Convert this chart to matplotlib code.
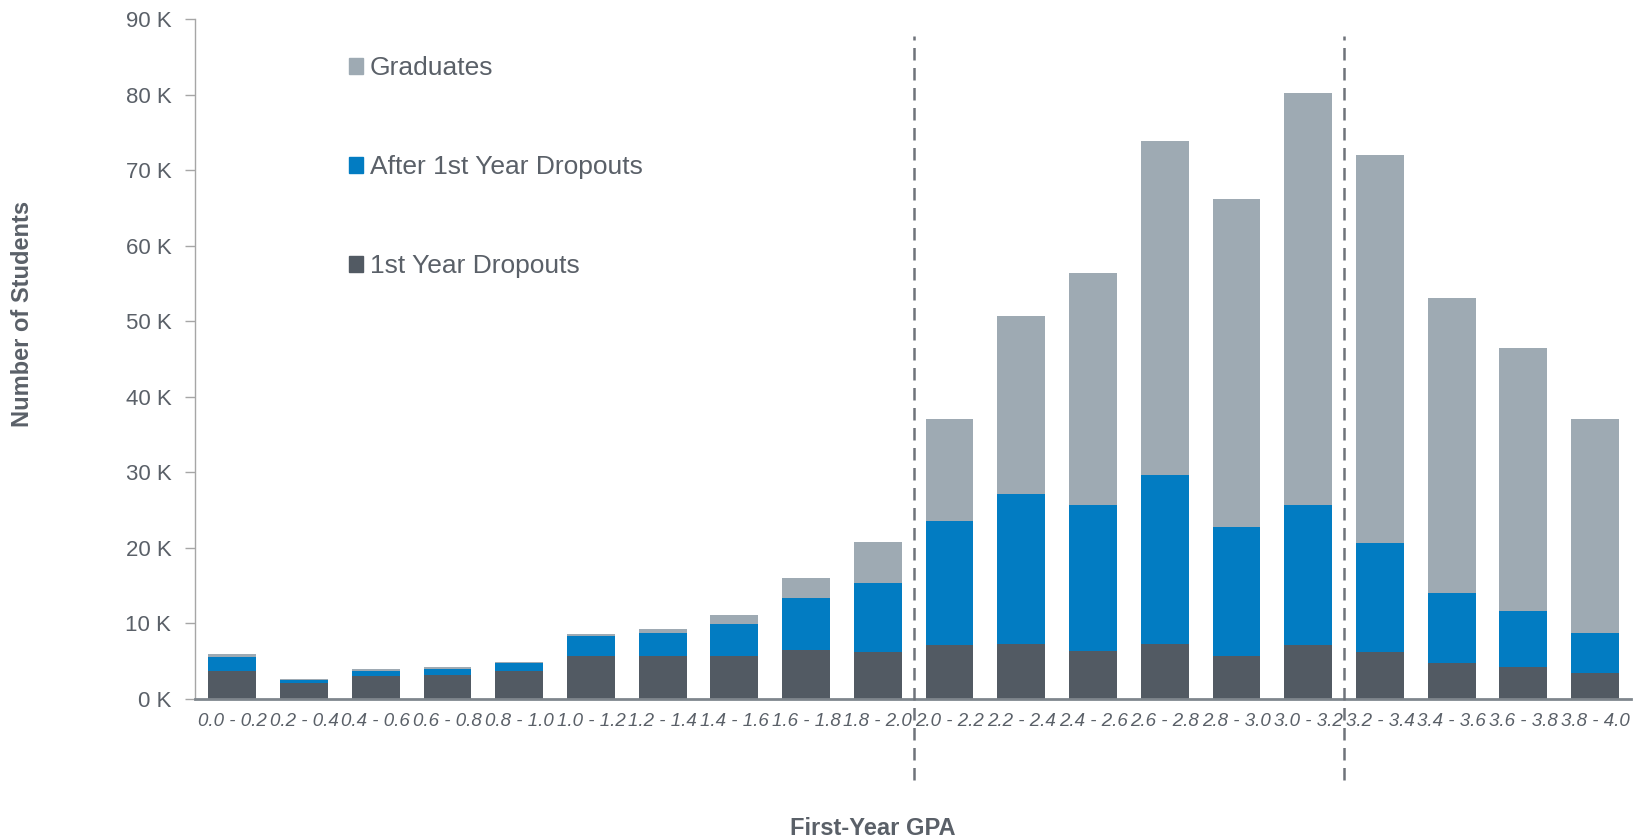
import matplotlib
matplotlib.use("Agg")
import matplotlib.pyplot as plt
from matplotlib.patches import Patch
from matplotlib.ticker import FuncFormatter

plt.rcParams['font.family'] = ['Liberation Sans', 'DejaVu Sans']

gpa_bins = ["0.0 - 0.2", "0.2 - 0.4", "0.4 - 0.6", "0.6 - 0.8", "0.8 - 1.0",
            "1.0 - 1.2", "1.2 - 1.4", "1.4 - 1.6", "1.6 - 1.8", "1.8 - 2.0",
            "2.0 - 2.2", "2.2 - 2.4", "2.4 - 2.6", "2.6 - 2.8", "2.8 - 3.0",
            "3.0 - 3.2", "3.2 - 3.4", "3.4 - 3.6", "3.6 - 3.8", "3.8 - 4.0"]
first_year_dropouts = [3650, 2070, 3030, 3160, 3650, 5750, 5660, 5750, 6540, 6170,
                       7080, 7220, 6300, 7300, 5750, 7080, 6150, 4700, 4170, 3380]
after_first_dropouts = [1920, 480, 700, 840, 1130, 2600, 3040, 4180, 6810, 9130,
                        16420, 19880, 19400, 22400, 17050, 18620, 14450, 9350, 7430, 5320]
graduates = [360, 80, 220, 200, 140, 220, 500, 1170, 2650, 5450,
             13500, 23600, 30700, 44200, 43400, 54500, 51400, 39050, 34900, 28400]
cutoffs = [9.5, 15.5]  # 2.0 and 3.2 GPA boundaries

c_dark = '#525a63'
c_blue = '#027cc2'
c_grey = '#9eaab3'
txt = '#5a6068'

fig = plt.figure(figsize=(16.44, 8.4), dpi=100)
ax = fig.add_axes([0.1186, 0.1679, 0.8735, 0.8095])

x = range(len(gpa_bins))
w = 0.667
mid = [a + b for a, b in zip(first_year_dropouts, after_first_dropouts)]
ax.bar(x, first_year_dropouts, w, color=c_dark, edgecolor='none')
ax.bar(x, after_first_dropouts, w, bottom=first_year_dropouts, color=c_blue, edgecolor='none')
ax.bar(x, graduates, w, bottom=mid, color=c_grey, edgecolor='none')

for cx in cutoffs:
    ax.plot([cx, cx], [-10700, 87700], color='#6e737a', lw=1.8,
            linestyle=(0, (5, 3)), clip_on=False, zorder=5)

ax.set_xlim(-0.52, 19.5)
ax.set_ylim(0, 90000)
ax.set_yticks(range(0, 90001, 10000))
ax.yaxis.set_major_formatter(FuncFormatter(lambda v, p: f"{int(v / 1000)} K"))
ax.set_xticks(list(x))
ax.set_xticklabels(gpa_bins, fontstyle='italic', fontsize=13.5, color=txt)

for s in ['top', 'right']:
    ax.spines[s].set_visible(False)
ax.spines['left'].set_color('#a6a6a6')
ax.spines['left'].set_linewidth(1.0)
ax.spines['bottom'].set_color('#7f868d')
ax.spines['bottom'].set_linewidth(2.0)
ax.tick_params(axis='y', length=7, width=1, color='#a6a6a6', pad=10, labelsize=16, labelcolor=txt)
ax.tick_params(axis='x', length=0, pad=10)

fig.text(0.0134, 0.626, "Number of Students", rotation=90, ha='center', va='center',
         fontsize=17, fontweight='bold', color=txt)
fig.text(0.531, 0.014, "First-Year GPA", ha='center', va='center',
         fontsize=17, fontweight='bold', color=txt)

handles = [Patch(color=c_grey, label='Graduates'),
           Patch(color=c_blue, label='After 1st Year Dropouts'),
           Patch(color=c_dark, label='1st Year Dropouts')]
fig.legend(handles=handles, loc='upper left', bbox_to_anchor=(0.204, 0.949),
           frameon=False, fontsize=19, handlelength=0.55, handleheight=0.55,
           handletextpad=0.25, labelspacing=2.85, borderpad=0, labelcolor=txt)

fig.savefig('out.png', dpi=100)
